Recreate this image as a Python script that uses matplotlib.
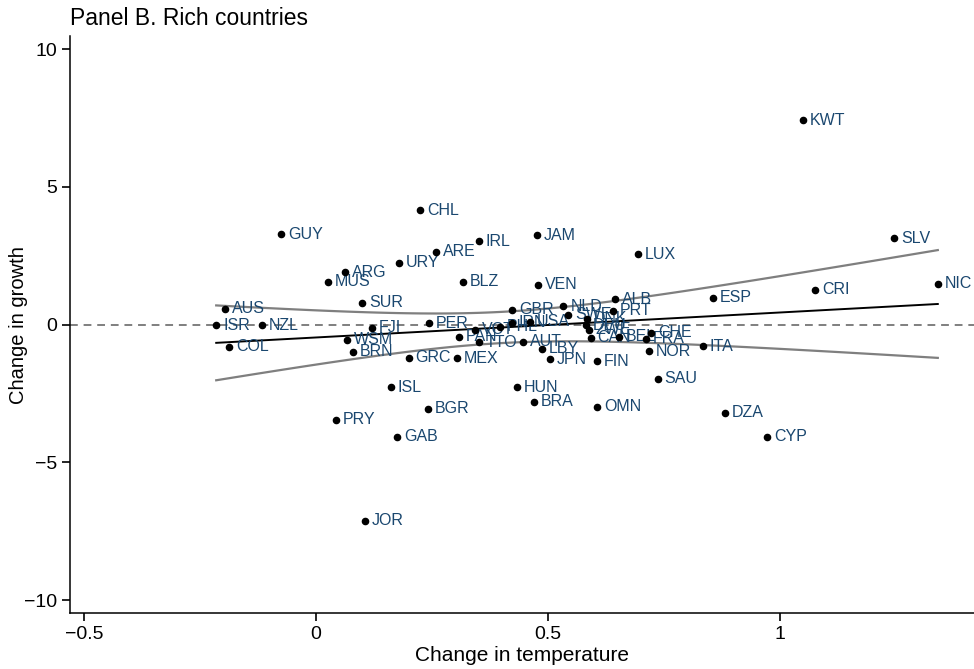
import matplotlib
matplotlib.use("Agg")
import matplotlib.pyplot as plt
import numpy as np

# country codes with change in temperature (x) and change in growth (y)
codes = ["KWT", "SLV", "NIC", "CRI", "ESP", "CHL", "GUY", "JAM", "IRL", "ARE",
         "URY", "LUX", "ARG", "MUS", "BLZ", "VEN", "SUR", "AUS", "ISR", "NZL",
         "COL", "FJI", "PER", "WSM", "BRN", "GRC", "MEX", "ISL", "PAN", "TTO",
         "VCT", "PHL", "IRN", "USA", "GBR", "NLD", "ALB", "PRT", "SWE", "DNK",
         "DEU", "ZWE", "CAN", "BEL", "FRA", "CHE", "ITA", "NOR", "FIN", "JPN",
         "LBY", "AUT", "SAU", "HUN", "BGR", "BRA", "OMN", "DZA", "CYP", "PRY",
         "GAB", "JOR"]
temp_change = [1.050, 1.246, 1.340, 1.075, 0.856, 0.224, -0.075, 0.476, 0.351, 0.259,
               0.179, 0.694, 0.063, 0.026, 0.317, 0.478, 0.100, -0.196, -0.215, -0.117,
               -0.187, 0.120, 0.244, 0.066, 0.079, 0.200, 0.303, 0.161, 0.308, 0.351,
               0.343, 0.397, 0.422, 0.461, 0.422, 0.533, 0.645, 0.640, 0.543, 0.584,
               0.582, 0.588, 0.592, 0.653, 0.711, 0.722, 0.834, 0.718, 0.606, 0.504,
               0.487, 0.446, 0.736, 0.433, 0.241, 0.470, 0.606, 0.881, 0.972, 0.043,
               0.175, 0.106]
growth_change = [7.42, 3.13, 1.49, 1.27, 0.98, 4.15, 3.27, 3.24, 3.02, 2.65,
                 2.25, 2.55, 1.89, 1.56, 1.56, 1.45, 0.79, 0.57, -0.03, -0.03,
                 -0.81, -0.12, 0.04, -0.55, -0.98, -1.21, -1.22, -2.27, -0.44, -0.65,
                 -0.18, -0.08, 0.06, 0.10, 0.53, 0.67, 0.91, 0.51, 0.36, 0.22,
                 -0.02, -0.18, -0.47, -0.44, -0.51, -0.29, -0.79, -0.97, -1.33, -1.25,
                 -0.87, -0.63, -1.97, -2.27, -3.05, -2.80, -2.98, -3.20, -4.07, -3.45,
                 -4.07, -7.13]

plt.rcParams['font.family'] = ['Liberation Sans', 'DejaVu Sans']

x = np.array(temp_change)
y = np.array(growth_change)

# OLS fit with robust (HC1) 95% band for the fitted line
n = len(x)
X = np.column_stack([np.ones(n), x])
XtX_inv = np.linalg.inv(X.T @ X)
beta = XtX_inv @ X.T @ y
e = y - X @ beta
meat = X.T @ (X * (e**2)[:, None])
V = XtX_inv @ meat @ XtX_inv * n / (n - 2)
xs = np.linspace(x.min(), x.max(), 100)
Xs = np.column_stack([np.ones_like(xs), xs])
fit = Xs @ beta
se = np.sqrt(np.einsum("ij,jk,ik->i", Xs, V, Xs))

fig = plt.figure(figsize=(9.74, 6.69), dpi=100)
ax = fig.add_axes([0.0719, 0.0837, 0.9281, 0.8623])

ax.axhline(0, color="#7f7f7f", lw=1.4, ls=(0, (4, 3)), zorder=1)
ax.plot(xs, fit + 2.0 * se, color="#7f7f7f", lw=1.6, zorder=2)
ax.plot(xs, fit - 2.0 * se, color="#7f7f7f", lw=1.6, zorder=2)
ax.plot(xs, fit, color="black", lw=1.4, zorder=3)
ax.scatter(x, y, s=20, color="black", zorder=4)
for c, xi, yi in zip(codes, x, y):
    ax.annotate(c, (xi, yi), xytext=(5, 0), textcoords="offset points",
                va="center", ha="left", fontsize=11.5, color="#1a476f",
                annotation_clip=False)

ax.set_xlim(-0.53, 1.418)
ax.set_ylim(-10.47, 10.47)
ax.set_xticks([-0.5, 0, 0.5, 1])
ax.set_xticklabels(["\u22120.5", "0", "0.5", "1"])
ax.set_yticks([-10, -5, 0, 5, 10])
ax.set_yticklabels(["\u221210", "\u22125", "0", "5", "10"])
ax.tick_params(direction="out", length=5.5, width=1.2, labelsize=14, pad=4)
for side in ["top", "right"]:
    ax.spines[side].set_visible(False)
ax.spines["left"].set_linewidth(1.1)
ax.spines["bottom"].set_linewidth(1.1)
ax.set_xlabel("Change in temperature", fontsize=15, labelpad=2)
ax.set_ylabel("Change in growth", fontsize=14.5)
ax.yaxis.set_label_coords(-0.047, 0.5)
ax.set_title("Panel B. Rich countries", loc="left", fontsize=16.5, pad=8, x=0.0)

fig.savefig("out.png", dpi=100)
